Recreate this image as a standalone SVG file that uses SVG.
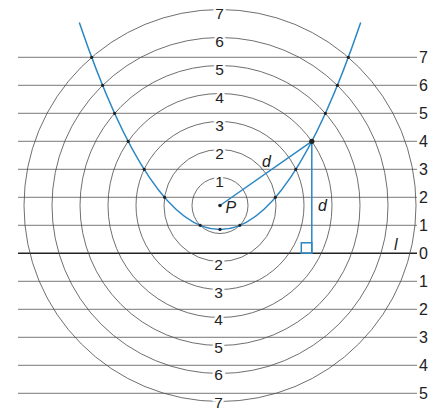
<svg xmlns="http://www.w3.org/2000/svg" width="435" height="413" viewBox="0 0 435 413">
<style>
.c{fill:none;stroke:#4a4a4a;stroke-width:0.8}
.h{stroke:#555;stroke-width:0.8}
.l{stroke:#222;stroke-width:1.5}
.b{fill:none;stroke:#2a86c4;stroke-width:1.5}
.t{font-family:"Liberation Sans",Arial,sans-serif;font-size:16px;fill:#222}
.lab{font-family:"Liberation Sans",Arial,sans-serif;font-size:15.5px;fill:#222;text-anchor:middle;stroke:#fff;stroke-width:5;paint-order:stroke}
.i{font-family:"Liberation Sans",Arial,sans-serif;font-size:16px;font-style:italic;fill:#222}
.d{fill:#222}
</style>
<rect width="435" height="413" fill="#fff"/>
<g id="lines">
<line class="h" x1="18" y1="57.3" x2="417" y2="57.3"/>
<line class="h" x1="18" y1="85.3" x2="417" y2="85.3"/>
<line class="h" x1="18" y1="113.3" x2="417" y2="113.3"/>
<line class="h" x1="18" y1="141.3" x2="417" y2="141.3"/>
<line class="h" x1="18" y1="169.3" x2="417" y2="169.3"/>
<line class="h" x1="18" y1="197.3" x2="417" y2="197.3"/>
<line class="h" x1="18" y1="225.3" x2="417" y2="225.3"/>
<line class="l" x1="18" y1="253.3" x2="417" y2="253.3"/>
<line class="h" x1="18" y1="281.3" x2="417" y2="281.3"/>
<line class="h" x1="18" y1="309.3" x2="417" y2="309.3"/>
<line class="h" x1="18" y1="337.3" x2="417" y2="337.3"/>
<line class="h" x1="18" y1="365.3" x2="417" y2="365.3"/>
<line class="h" x1="18" y1="393.3" x2="417" y2="393.3"/>
</g>
<g id="circles">
<circle class="c" cx="220" cy="205.5" r="28"/>
<circle class="c" cx="220" cy="205.5" r="56"/>
<circle class="c" cx="220" cy="205.5" r="84"/>
<circle class="c" cx="220" cy="205.5" r="112"/>
<circle class="c" cx="220" cy="205.5" r="140"/>
<circle class="c" cx="220" cy="205.5" r="168"/>
<circle class="c" cx="220" cy="205.5" r="196"/>
</g>
<g id="circle-labels">
<text class="lab" x="219.5" y="186.5">1</text>
<text class="lab" x="219.5" y="158.5">2</text>
<text class="lab" x="219.5" y="130.5">3</text>
<text class="lab" x="219.5" y="102.5">4</text>
<text class="lab" x="219.5" y="74.5">5</text>
<text class="lab" x="219.5" y="46.5">6</text>
<text class="lab" x="219.5" y="18.5">7</text>
<text class="lab" x="218.5" y="270">2</text>
<text class="lab" x="218.5" y="297.5">3</text>
<text class="lab" x="218.5" y="325">4</text>
<text class="lab" x="218.5" y="352.5">5</text>
<text class="lab" x="218.5" y="380">6</text>
<text class="lab" x="218.5" y="408">7</text>
</g>
<g id="line-labels">
<text class="t" x="419" y="63">7</text>
<text class="t" x="419" y="91">6</text>
<text class="t" x="419" y="119">5</text>
<text class="t" x="419" y="147">4</text>
<text class="t" x="419" y="175">3</text>
<text class="t" x="419" y="203">2</text>
<text class="t" x="419" y="231">1</text>
<text class="t" x="419" y="259">0</text>
<text class="t" x="419" y="287">1</text>
<text class="t" x="419" y="315">2</text>
<text class="t" x="419" y="343">3</text>
<text class="t" x="419" y="371">4</text>
<text class="t" x="419" y="399">5</text>
<text class="i" x="394" y="250">l</text>
</g>
<g id="parabola">
<path class="b" d="M79.3,22.4 Q220,436.5 360.7,22.4"/>
<line class="b" x1="220" y1="205.5" x2="311.8" y2="141.3"/>
<line class="b" x1="311.8" y1="141.3" x2="311.8" y2="253.3"/>
<rect class="b" x="301.3" y="242.8" width="10.5" height="10.5" stroke-width="1.1"/>
</g>
<g id="points">
<circle class="d" cx="220" cy="205.5" r="1.8"/>
<circle class="d" cx="220" cy="229.4" r="1.6"/>
<circle class="d" cx="200.2" cy="225.3" r="1.6"/>
<circle class="d" cx="239.8" cy="225.3" r="1.6"/>
<circle class="d" cx="164.6" cy="197.3" r="1.6"/>
<circle class="d" cx="275.4" cy="197.3" r="1.6"/>
<circle class="d" cx="144.2" cy="169.3" r="1.6"/>
<circle class="d" cx="295.8" cy="169.3" r="1.6"/>
<circle class="d" cx="128.2" cy="141.3" r="1.6"/>
<circle class="d" cx="311.8" cy="141.3" r="2.6"/>
<circle class="d" cx="114.6" cy="113.3" r="1.6"/>
<circle class="d" cx="325.4" cy="113.3" r="1.6"/>
<circle class="d" cx="102.6" cy="85.3" r="1.6"/>
<circle class="d" cx="337.4" cy="85.3" r="1.6"/>
<circle class="d" cx="91.7" cy="57.3" r="1.6"/>
<circle class="d" cx="348.3" cy="57.3" r="1.6"/>
</g>
<g id="labels">
<text class="i" x="225.5" y="213">P</text>
<text class="i" x="262" y="166.5">d</text>
<text class="i" x="318" y="211">d</text>
</g>
</svg>
